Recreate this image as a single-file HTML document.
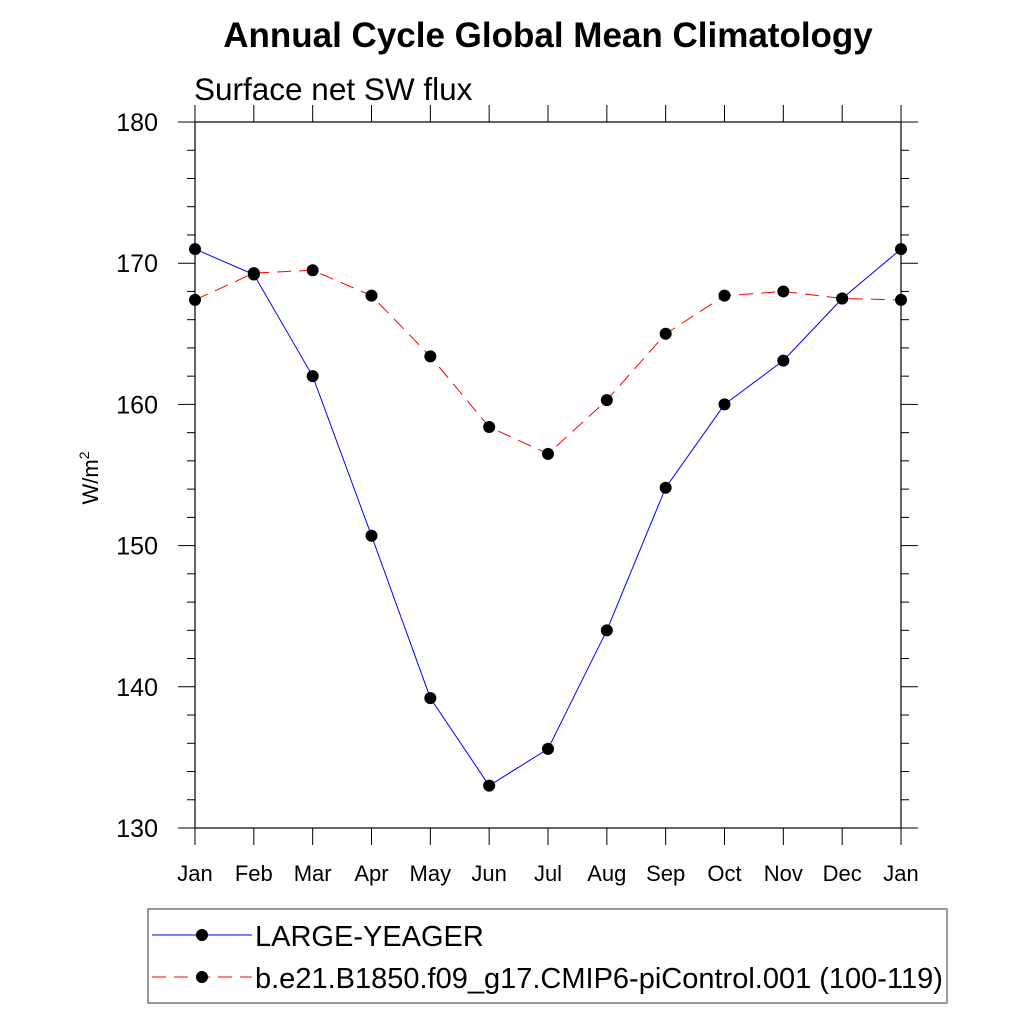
<!DOCTYPE html>
<html><head><meta charset="utf-8"><style>
body{margin:0;background:#fff;}
svg text{font-family:"Liberation Sans",sans-serif;}
</style></head><body>
<svg width="1024" height="1024" viewBox="0 0 1024 1024">
<text x="548" y="47" text-anchor="middle" font-size="35" font-weight="bold">Annual Cycle Global Mean Climatology</text>
<text x="194" y="100" font-size="31.5">Surface net SW flux</text>
<text transform="translate(98,478) rotate(-90)" text-anchor="middle" font-size="22">W/m<tspan dy="-9" font-size="14">2</tspan></text>
<g id="axes"></g>
<g id="series"></g>
<g>
<rect x="148" y="909" width="799" height="94" fill="none" stroke="#777" stroke-width="1.5"/>
<g>
<line x1="152" y1="935" x2="252" y2="935" stroke="#0000ff" stroke-width="1"/>
<circle cx="202" cy="935" r="6" fill="#000"/>
<text x="255" y="946" font-size="29">LARGE-YEAGER</text></g>
<g>
<line x1="152" y1="977" x2="252" y2="977" stroke="#ff0000" stroke-width="1" stroke-dasharray="14,8"/>
<circle cx="202" cy="977" r="6" fill="#000"/>
<text x="255" y="988" font-size="29">b.e21.B1850.f09_g17.CMIP6-piControl.001 (100-119)</text></g>
</g>
</svg>
<script>
const months=["Jan","Feb","Mar","Apr","May","Jun","Jul","Aug","Sep","Oct","Nov","Dec","Jan"];
const yTicks=[130,140,150,160,170,180];
const largeYeager=[171.0,169.2,162.0,150.7,139.2,133.0,135.6,144.0,154.1,160.0,163.1,167.5,171.0];
const piControl=[167.4,169.3,169.5,167.7,163.4,158.4,156.5,160.3,165.0,167.7,168.0,167.5,167.4];
const NS="http://www.w3.org/2000/svg";
const X0=195,X1=901,Y0=828,Y1=122,YMIN=130,YMAX=180;
const xs=i=>X0+i*(X1-X0)/(months.length-1);
const ys=v=>Y0-(v-YMIN)*(Y0-Y1)/(YMAX-YMIN);
function mk(tag,attrs,parent){const e=document.createElementNS(NS,tag);for(const k in attrs)e.setAttribute(k,attrs[k]);parent.appendChild(e);return e;}
const ax=document.getElementById('axes');
const fr=mk('rect',{x:X0,y:Y1,width:X1-X0,height:Y0-Y1,fill:'none',stroke:'#000','stroke-width':1.2},ax);


months.forEach((m,i)=>{
  const x=xs(i);
  mk('line',{x1:x,y1:Y0,x2:x,y2:Y0+17,stroke:'#000'},ax);
  mk('line',{x1:x,y1:Y1,x2:x,y2:Y1-17,stroke:'#000'},ax);
  const t=mk('text',{x:x,y:Y0+53,'text-anchor':'middle','font-size':22},ax);
  t.textContent=m;
  
  
});
for(let v=YMIN;v<=YMAX;v+=2){
  const y=ys(v),major=(v%10===0),L=major?17:8;
  mk('line',{x1:X0,y1:y,x2:X0-L,y2:y,stroke:'#000'},ax);
  mk('line',{x1:X1,y1:y,x2:X1+L,y2:y,stroke:'#000'},ax);
}
yTicks.forEach(v=>{
  const t=mk('text',{x:158,y:ys(v)+9,'text-anchor':'end','font-size':25},ax);
  t.textContent=v;
  
  
});
const sg=document.getElementById('series');
function drawSeries(vals,color,dash,name){
  const g=mk('g',{},sg);
  
  
  const p=vals.map((v,i)=>xs(i)+','+ys(v)).join(' ');
  const a={points:p,fill:'none',stroke:color,'stroke-width':1};
  if(dash)a['stroke-dasharray']=dash;
  mk('polyline',a,g);
  vals.forEach((v,i)=>{const c=mk('circle',{cx:xs(i),cy:ys(v),r:6,fill:'#000'},g);
    
    });
}
drawSeries(piControl,'#ff0000','14,8','series-picontrol');
drawSeries(largeYeager,'#0000ff',null,'series-large-yeager');
</script>
</body></html>
